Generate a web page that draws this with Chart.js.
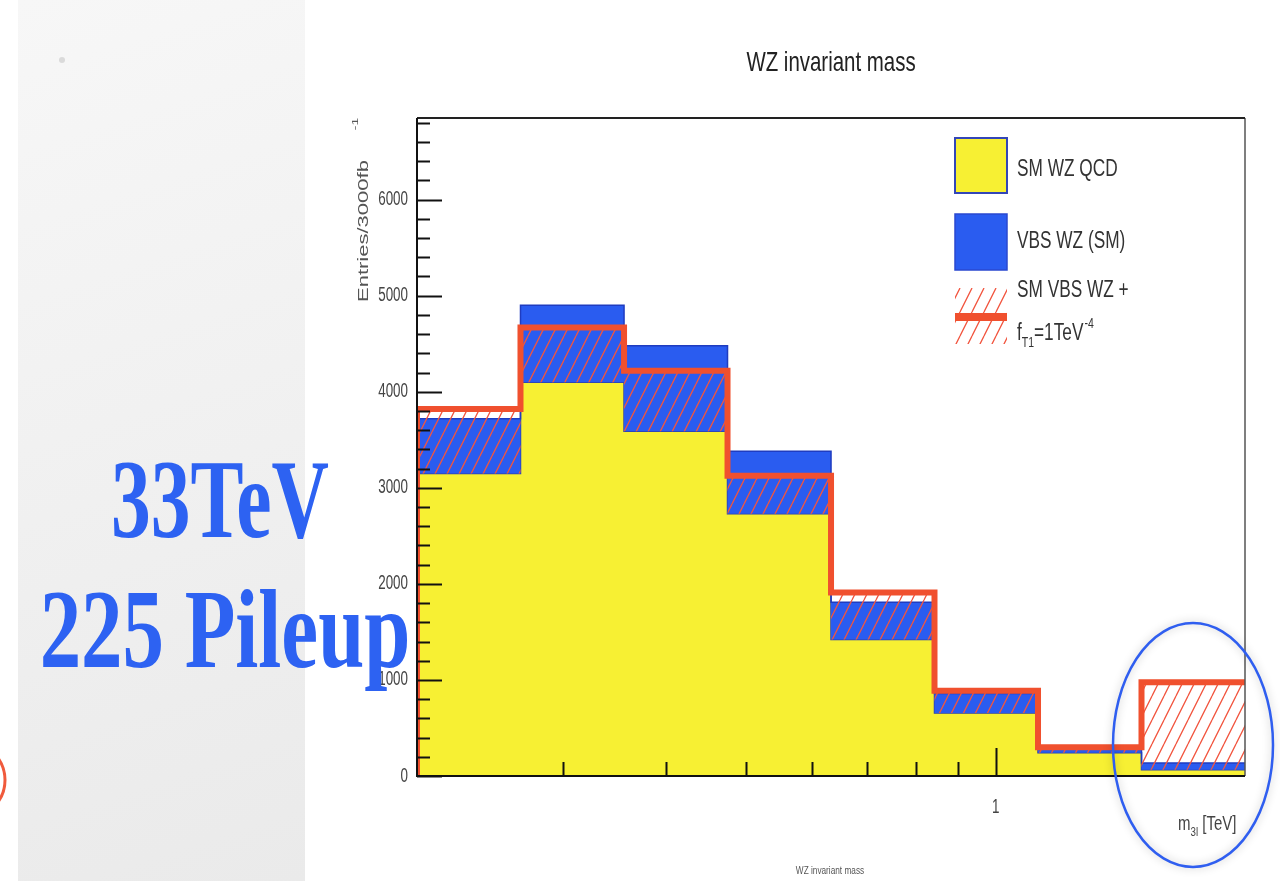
<!DOCTYPE html>
<html><head><meta charset="utf-8">
<script src="https://cdn.jsdelivr.net/npm/chart.js@4.4.0/dist/chart.umd.min.js"></script>
<style>html,body{margin:0;padding:0;background:#fff;}canvas{display:block;}</style>
</head><body>
<canvas id="c" width="1280" height="881"></canvas>
<script>
// ---- data ----
const binEdges = [0.2, 0.2667, 0.3557, 0.4743, 0.6325, 0.8434, 1.1247, 1.4998, 2.0]; // TeV, log bins
const smWzQcd  = [3150, 4100, 3590, 2730, 1420, 655, 243, 65];
const vbsWzSm  = [570, 800, 890, 650, 390, 205, 40, 70];
const vbsWzFt1 = [670, 570, 630, 395, 490, 232, 57, 910];
const seriesNames = ['SM WZ QCD', 'VBS WZ (SM)', 'SM VBS WZ +'];
const yTickValues = [0, 1000, 2000, 3000, 4000, 5000, 6000];
const yTickLabels = ['0', '1000', '2000', '3000', '4000', '5000', '6000'];
const yMinorStep = 200;
const xTickValues = [1];
const xTickLabels = ['1'];
const xMinorTickValues = [0.3, 0.4, 0.5, 0.6, 0.7, 0.8, 0.9];

// ---- helpers ----
function histPoints(vals) {
  const pts = [{x: binEdges[0], y: 0}];
  vals.forEach((v, i) => pts.push({x: binEdges[i], y: v}));
  pts.push({x: binEdges[binEdges.length - 1], y: vals[vals.length - 1]});
  return pts;
}
const blueTotal = smWzQcd.map((v, i) => v + vbsWzSm[i]);
const redTotal = smWzQcd.map((v, i) => v + vbsWzFt1[i]);

const pc = document.createElement('canvas');
pc.width = 12; pc.height = 24;
const pg = pc.getContext('2d');
pg.strokeStyle = '#f2553f'; pg.lineWidth = 1.3;
pg.beginPath();
pg.moveTo(0, 24); pg.lineTo(12, 0);
pg.moveTo(-12, 24); pg.lineTo(0, 0);
pg.moveTo(12, 24); pg.lineTo(24, 0);
pg.stroke();
const hatch = pg.createPattern(pc, 'repeat');

const SANS = '"Liberation Sans", Arial, Helvetica, sans-serif';
function txt(ctx, s, x, y, font, sx, align, base, color) {
  ctx.save();
  ctx.translate(x, y);
  ctx.scale(sx, 1);
  ctx.font = font;
  ctx.textAlign = align || 'left';
  ctx.textBaseline = base || 'alphabetic';
  ctx.fillStyle = color || '#333';
  ctx.fillText(s, 0, 0);
  const w = ctx.measureText(s).width * sx;
  ctx.restore();
  return w;
}

const decor = {
  id: 'decor',
  beforeDraw(chart) {
    const ctx = chart.ctx;
    ctx.save();
    ctx.fillStyle = '#ffffff';
    ctx.fillRect(0, 0, 1280, 881);
    const g = ctx.createLinearGradient(18, 0, 305, 881);
    g.addColorStop(0, '#f7f7f7');
    g.addColorStop(1, '#eaeaea');
    ctx.fillStyle = g;
    ctx.fillRect(18, 0, 287, 881);
    ctx.fillStyle = 'rgba(200,200,200,0.6)';
    ctx.beginPath(); ctx.arc(62, 60, 3, 0, Math.PI * 2); ctx.fill();
    ctx.strokeStyle = '#f05a3c'; ctx.lineWidth = 3;
    ctx.beginPath(); ctx.arc(-33, 780, 38, -Math.PI / 2, Math.PI / 2); ctx.stroke();
    ctx.restore();
  },
  afterDatasetsDraw(chart) {
    const ctx = chart.ctx, a = chart.chartArea;
    const xs = chart.scales.x, ys = chart.scales.y;
    ctx.save();
    // frame
    ctx.strokeStyle = '#555'; ctx.lineWidth = 1.5;
    ctx.beginPath(); ctx.moveTo(a.right, a.top); ctx.lineTo(a.right, a.bottom); ctx.stroke();
    ctx.strokeStyle = '#222'; ctx.lineWidth = 2;
    ctx.beginPath(); ctx.moveTo(a.left, a.top); ctx.lineTo(a.right, a.top); ctx.stroke();
    ctx.strokeStyle = '#111'; ctx.lineWidth = 2;
    ctx.beginPath(); ctx.moveTo(a.left, a.top); ctx.lineTo(a.left, a.bottom); ctx.lineTo(a.right, a.bottom); ctx.stroke();
    // y ticks
    ctx.lineWidth = 2; ctx.strokeStyle = '#111';
    for (let v = 0; v <= ys.max; v += yMinorStep) {
      const y = Math.round(ys.getPixelForValue(v)) + 0.5;
      const len = (v % 1000 === 0) ? 25 : 13;
      ctx.beginPath(); ctx.moveTo(a.left, y); ctx.lineTo(a.left + len, y); ctx.stroke();
    }
    // x ticks
    xMinorTickValues.forEach(v => {
      const x = Math.round(xs.getPixelForValue(v)) + 0.5;
      ctx.beginPath(); ctx.moveTo(x, a.bottom); ctx.lineTo(x, a.bottom - 14); ctx.stroke();
    });
    xTickValues.forEach(v => {
      const x = Math.round(xs.getPixelForValue(v)) + 0.5;
      ctx.beginPath(); ctx.moveTo(x, a.bottom); ctx.lineTo(x, a.bottom - 28); ctx.stroke();
    });
    ctx.restore();
  },
  afterDraw(chart) {
    const ctx = chart.ctx, a = chart.chartArea;
    const xs = chart.scales.x, ys = chart.scales.y;
    // y tick labels
    yTickValues.forEach((v, i) => {
      txt(ctx, yTickLabels[i], a.left - 9, ys.getPixelForValue(v), '20px ' + SANS, 0.67, 'right', 'middle', '#444');
    });
    // x tick labels
    xTickValues.forEach((v, i) => {
      txt(ctx, xTickLabels[i], xs.getPixelForValue(v), a.bottom + 31, '20px ' + SANS, 0.67, 'center', 'middle', '#444');
    });
    // title
    txt(ctx, 'WZ invariant mass', (a.left + a.right) / 2, 63, '28px ' + SANS, 0.73, 'center', 'middle', '#222');
    // x axis label m_3l [TeV]
    let x = 1178;
    x += txt(ctx, 'm', x, 830, '20px ' + SANS, 0.75, 'left', 'alphabetic', '#444');
    x += txt(ctx, '3l', x, 836, '13px ' + SANS, 0.75, 'left', 'alphabetic', '#444');
    txt(ctx, ' [TeV]', x, 830, '20px ' + SANS, 0.75, 'left', 'alphabetic', '#444');
    // y axis title (rotated)
    ctx.save();
    ctx.translate(368, 302);
    ctx.rotate(-Math.PI / 2);
    ctx.scale(1, 0.68);
    ctx.font = '22px ' + SANS; ctx.fillStyle = '#555'; ctx.textBaseline = 'alphabetic';
    ctx.fillText('Entries/3000fb', 0, 0);
    const tw = ctx.measureText('Entries/3000fb').width;
    ctx.font = '14px ' + SANS;
    ctx.fillText('-1', tw + 30, -14);
    ctx.restore();
    // bottom small caption
    txt(ctx, 'WZ invariant mass', 830, 871, '11px ' + SANS, 0.75, 'center', 'middle', '#555');
    // legend
    ctx.save();
    ctx.fillStyle = '#f7f033'; ctx.fillRect(955, 138, 52, 55);
    ctx.strokeStyle = '#3346b8'; ctx.lineWidth = 2; ctx.strokeRect(955, 138, 52, 55);
    ctx.fillStyle = '#2a5cf0'; ctx.fillRect(955, 214, 52, 56);
    ctx.strokeStyle = '#2a48d0'; ctx.lineWidth = 1.5; ctx.strokeRect(955, 214, 52, 56);
    ctx.fillStyle = hatch; ctx.fillRect(955, 288, 52, 56);
    ctx.fillStyle = '#f0502e'; ctx.fillRect(955, 313, 52, 8);
    ctx.restore();
    txt(ctx, seriesNames[0], 1017, 170, '23px ' + SANS, 0.75, 'left', 'middle', '#333');
    txt(ctx, seriesNames[1], 1017, 242, '23px ' + SANS, 0.75, 'left', 'middle', '#333');
    txt(ctx, seriesNames[2], 1017, 291, '23px ' + SANS, 0.75, 'left', 'middle', '#333');
    x = 1017;
    x += txt(ctx, 'f', x, 340, '23px ' + SANS, 0.75, 'left', 'alphabetic', '#333');
    x += txt(ctx, 'T1', x, 347, '14px ' + SANS, 0.75, 'left', 'alphabetic', '#333');
    x += txt(ctx, '=1TeV', x, 340, '23px ' + SANS, 0.75, 'left', 'alphabetic', '#333');
    txt(ctx, '-4', x + 1, 328, '14px ' + SANS, 0.75, 'left', 'alphabetic', '#333');
    // overlay slide text
    const SERIF = 'bold 112px "Liberation Serif", "Times New Roman", serif';
    txt(ctx, '33TeV', 220, 537, SERIF, 0.71, 'center', 'alphabetic', '#2d62f2');
    txt(ctx, '225 Pileup', 225, 667, SERIF, 0.74, 'center', 'alphabetic', '#2d62f2');
    // highlight ellipse
    ctx.save();
    ctx.shadowColor = 'rgba(0,0,0,0.25)'; ctx.shadowBlur = 8;
    ctx.strokeStyle = '#2f5ef0'; ctx.lineWidth = 2.5;
    ctx.beginPath(); ctx.ellipse(1193, 745, 80, 122, 0, 0, Math.PI * 2); ctx.stroke();
    ctx.restore();
  }
};

new Chart(document.getElementById('c'), {
  type: 'line',
  data: {
    datasets: [
      {label: seriesNames[0], data: histPoints(smWzQcd), stepped: 'before', fill: 'origin',
       backgroundColor: '#f7f033', borderColor: '#2e3fa8', borderWidth: 1.5, pointRadius: 0, order: 3},
      {label: seriesNames[1], data: histPoints(blueTotal), stepped: 'before', fill: 0,
       backgroundColor: '#2a5cf0', borderColor: '#1f3cc0', borderWidth: 1.5, pointRadius: 0, order: 2},
      {label: seriesNames[2], data: histPoints(redTotal), stepped: 'before', fill: 0,
       backgroundColor: hatch, borderColor: '#f0502e', borderWidth: 6, pointRadius: 0, order: 1}
    ]
  },
  options: {
    responsive: false,
    animation: false,
    layout: {padding: {left: 357, right: 35, top: 118, bottom: 0}},
    scales: {
      x: {type: 'logarithmic', min: binEdges[0], max: binEdges[binEdges.length - 1],
          grid: {display: false}, border: {display: false}, ticks: {display: false},
          afterFit: s => { s.height = 105; }},
      y: {type: 'linear', min: 0, max: 6850,
          grid: {display: false}, border: {display: false}, ticks: {display: false},
          afterFit: s => { s.width = 60; }}
    },
    plugins: {legend: {display: false}, tooltip: {enabled: false}, title: {display: false}}
  },
  plugins: [decor]
});
</script>
</body></html>
